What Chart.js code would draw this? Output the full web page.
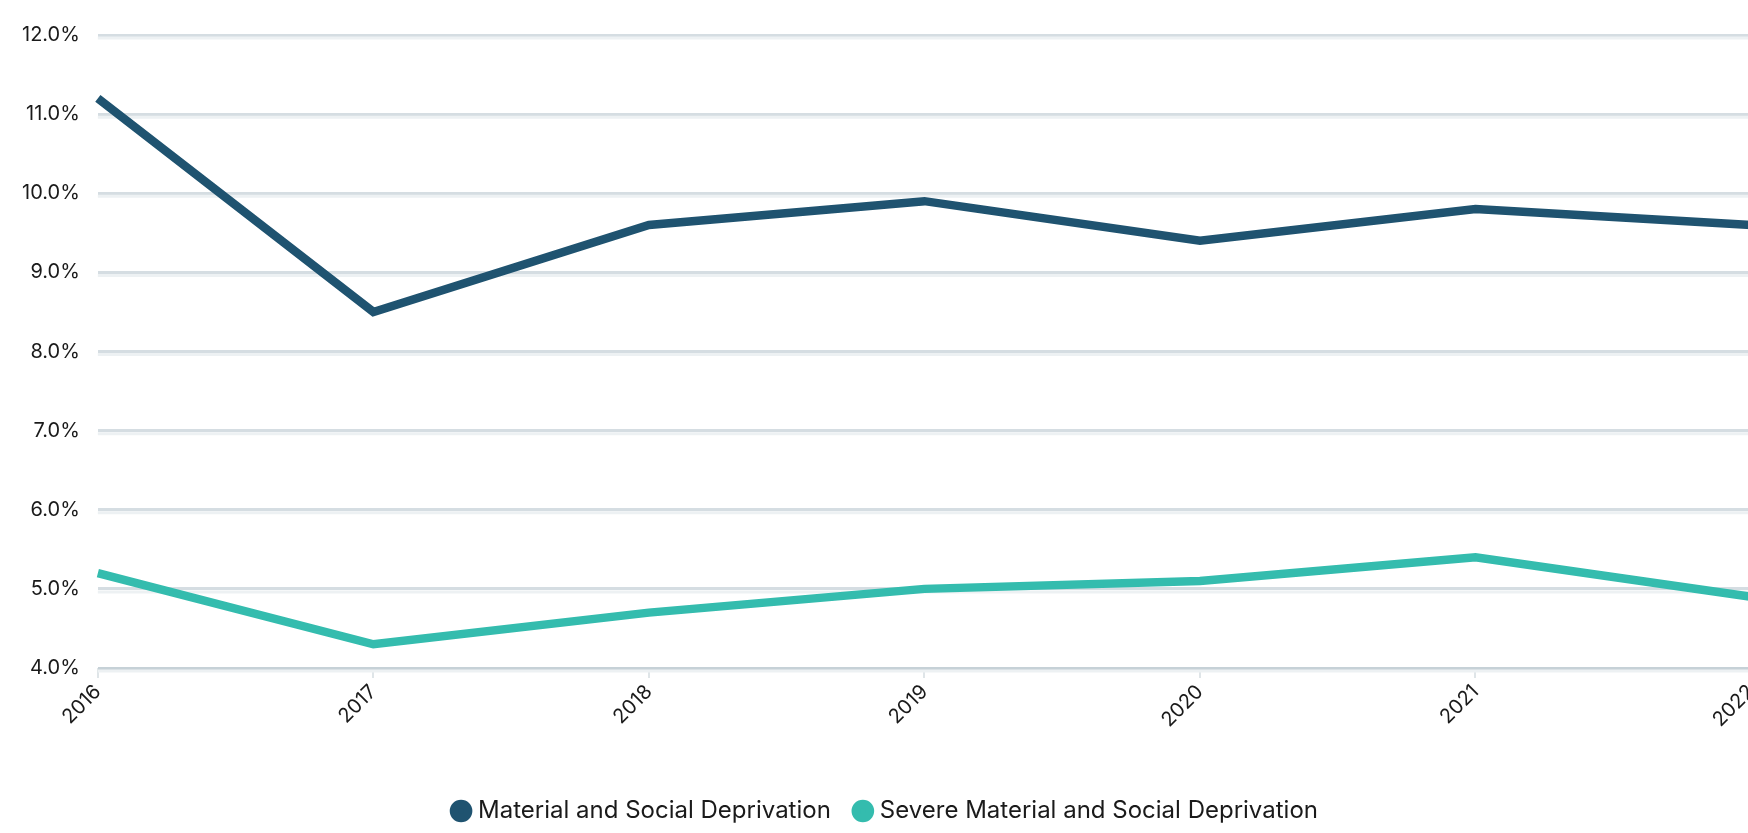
<!DOCTYPE html>
<html>
<head>
<meta charset="utf-8">
<script src="https://cdn.jsdelivr.net/npm/chart.js@4"></script>
<style>
  html, body { margin: 0; padding: 0; background: #fff; overflow: hidden; }
  #wrap { width: 1770px; height: 833px; }
</style>
</head>
<body>
<div id="wrap"><canvas id="chart" width="1770" height="833"></canvas></div>
<script>
const years = ["2016", "2017", "2018", "2019", "2020", "2021", "2022"];
const materialSocial = [11.2, 8.5, 9.6, 9.9, 9.4, 9.8, 9.6];
const severeMaterialSocial = [5.2, 4.3, 4.7, 5.0, 5.1, 5.4, 4.9];
const yTicks = [4, 5, 6, 7, 8, 9, 10, 11, 12];

const FONT = "Inter, 'Open Sans', sans-serif";

// lighter band under each horizontal grid line
const gridShadow = {
  id: "gridShadow",
  beforeDatasetsDraw(chart) {
    const { ctx, chartArea, scales } = chart;
    ctx.save();
    ctx.strokeStyle = "#edf1f3";
    ctx.lineWidth = 3;
    for (const t of yTicks) {
      const y = scales.y.getPixelForValue(t) + 3;
      ctx.beginPath();
      ctx.moveTo(chartArea.left, y);
      ctx.lineTo(chartArea.right, y);
      ctx.stroke();
    }
    ctx.restore();
  },
};

new Chart(document.getElementById("chart").getContext("2d"), {
  type: "line",
  data: {
    labels: years,
    datasets: [
      {
        label: "Material and Social Deprivation",
        data: materialSocial,
        borderColor: "#1f5370",
        backgroundColor: "#1f5370",
        borderWidth: 8.5,
        pointRadius: 0,
        tension: 0,
      },
      {
        label: "Severe Material and Social Deprivation",
        data: severeMaterialSocial,
        borderColor: "#34bcae",
        backgroundColor: "#34bcae",
        borderWidth: 8.5,
        pointRadius: 0,
        tension: 0,
      },
    ],
  },
  options: {
    responsive: false,
    animation: false,
    layout: { padding: { left: 4, right: 0, top: 35, bottom: 0 } },
    plugins: {
      tooltip: { enabled: false },
      legend: {
        position: "bottom",
        labels: {
          usePointStyle: true,
          pointStyle: "circle",
          boxHeight: 10,
          boxWidth: 10,
          padding: 27,
          color: "#1a1a1a",
          font: { family: FONT, size: 24 },
        },
      },
    },
    scales: {
      x: {
        offset: false,
        border: { display: false },
        grid: {
          drawOnChartArea: false,
          drawTicks: true,
          tickLength: 10,
          color: "#dfe5e8",
          lineWidth: 2,
        },
        ticks: {
          maxRotation: 45,
          minRotation: 45,
          color: "#1a1a1a",
          padding: 2,
          font: { family: FONT, size: 20 },
        },
        afterFit(scale) { scale.height = 104; },
      },
      y: {
        min: 4,
        max: 12,
        border: { display: false },
        grid: {
          drawTicks: false,
          color: (c) => (c.tick && c.tick.value === 4 ? "#c6d1d7" : "#d5dde2"),
          lineWidth: 3,
        },
        ticks: {
          stepSize: 1,
          padding: 18,
          color: "#1a1a1a",
          font: { family: FONT, size: 20 },
          callback: (v) => v.toFixed(1) + "%",
        },
      },
    },
  },
  plugins: [gridShadow],
});
</script>
</body>
</html>
